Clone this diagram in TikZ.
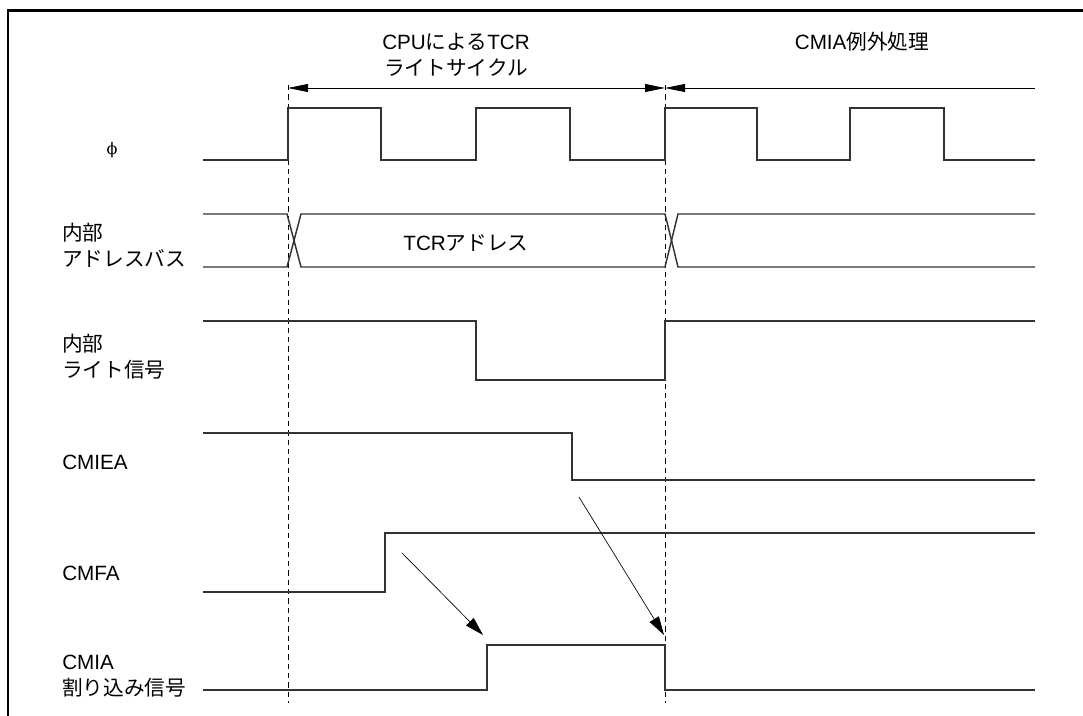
\documentclass[tikz,border=0pt]{standalone}
\usepackage{fontspec}
\newfontfamily\jpfont{Noto Sans CJK JP}
\newfontfamily\latfont{Liberation Sans}
\newfontfamily\greekfont{DejaVu Serif}
\newcommand\lt[1]{{\latfont #1}}
\usetikzlibrary{positioning, arrows.meta}

\begin{document}
\begin{tikzpicture}[
    x=0.75pt, y=-0.75pt,
    every node/.style={font=\jpfont\fontsize{15.5}{19.5}\selectfont, inner sep=0pt},
    wave/.style={line width=1.1pt, draw=black!80},
    guide/.style={line width=0.5pt, dash pattern=on 4pt off 3pt},
    span/.style={line width=0.6pt},
    cause/.style={line width=0.5pt, -{Triangle[length=14pt, width=8pt]}},
    frame/.style={line width=2.2pt},
    tip/.tip={Triangle[length=15pt, width=6pt]}
]
\useasboundingbox (0,0) rectangle (1083,716);
\draw[frame] (1090,10.5) -| (8,720);

% time markers
\coordinate (ta) at (288,85);
\coordinate (tb) at (665,85);
\draw[guide] (ta) -- (288,703);
\draw[guide] (tb) -- (665,703);

% cycle spans
\coordinate (sa) at (288,88);
\coordinate (sb) at (665,88);
\coordinate (sc) at (1035,88);
\draw[span, tip-tip] (sa) -- (sb);
\draw[span, tip-] (sb) -- (sc);
\node (cyc) at (456,55) [align=center] {\lt{CPU}による\lt{TCR}\\ライトサイクル};
\node (exc) at (862,42) {\lt{CMIA}例外処理};

% signal names
\node (phi) at (112,150) {\greekfont\fontsize{12}{14}\selectfont ϕ};
\node (abus) at (62,245) [anchor=west, align=left] {内部\\アドレスバス};
\node (wr) at (62,357) [anchor=west, align=left] {内部\\ライト信号};
\node (cmiea) at (62,462) [anchor=west] {\lt{CMIEA}};
\node (cmfa) at (62,573) [anchor=west] {\lt{CMFA}};
\node (cmia) at (62,676) [anchor=west, align=left] {\lt{CMIA}\\割り込み信号};

% waveforms
\draw[wave] (203,160) -- (288,160) -- (288,108) -- (381,108) -- (381,160)
    -- (476,160) -- (476,108) -- (570,108) -- (570,160)
    -- (665,160) -- (665,108) -- (757,108) -- (757,160)
    -- (850,160) -- (850,108) -- (944,108) -- (944,160) -- (1035,160);
\draw[wave] (203,214) -- (287,214) -- (301,267) -- (665,267) -- (678,214) -- (1035,214);
\draw[wave] (203,267) -- (287,267) -- (301,214) -- (665,214) -- (678,267) -- (1035,267);
\node (addr) at (466,243) {\lt{TCR}アドレス};
\draw[wave] (203,321) -- (476,321) -- (476,380) -- (665,380) -- (665,321) -- (1035,321);
\draw[wave] (203,433) -- (572,433) -- (572,480) -- (1035,480);
\draw[wave] (203,592) -- (385,592) -- (385,533) -- (1035,533);
\draw[wave] (203,690) -- (487,690) -- (487,645) -- (665,645) -- (665,690) -- (1035,690);

% causes
\coordinate (fa) at (402,553);
\coordinate (fb) at (483,635);
\coordinate (ea) at (579,497);
\coordinate (eb) at (664,635);
\draw[cause] (fa) -- (fb);
\draw[cause] (ea) -- (eb);
\end{tikzpicture}
\end{document}
